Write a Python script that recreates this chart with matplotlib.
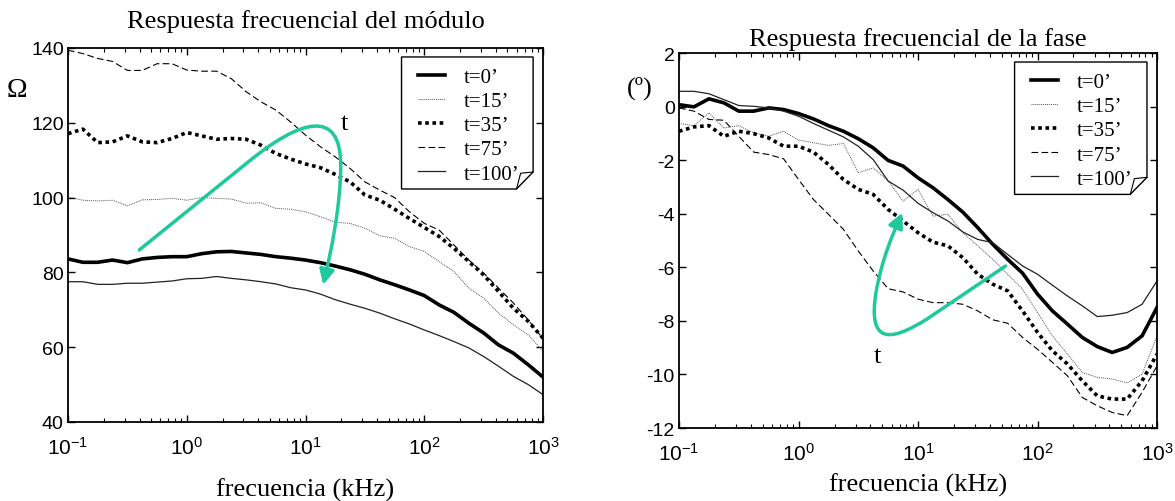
import numpy as np
import matplotlib
matplotlib.use("Agg")
import matplotlib.pyplot as plt
from matplotlib.path import Path
from matplotlib.patches import FancyArrowPatch, Polygon
from matplotlib.lines import Line2D
from matplotlib import ticker

plt.rcParams["font.family"] = ["Liberation Sans", "DejaVu Sans"]
plt.rcParams["mathtext.fontset"] = "custom"
plt.rcParams["mathtext.rm"] = "Liberation Sans"
plt.rcParams["mathtext.it"] = "Liberation Sans"
plt.rcParams["mathtext.default"] = "regular"
plt.rcParams["axes.unicode_minus"] = False

SERIF = ["Liberation Serif", "DejaVu Serif"]

# Frequency grid (kHz), 8 points per decade from 0.1 to 1000
freq_khz = 10 ** np.linspace(-1, 3, 33)

labels = ["t=0\u2019", "t=15\u2019", "t=35\u2019", "t=75\u2019", "t=100\u2019"]

# Impedance magnitude (ohm)
mod_t0 = [83.6, 82.7, 82.7, 83.3, 82.6, 83.6, 84.0, 84.2, 84.2, 85.0, 85.5, 85.6,
          85.2, 84.8, 84.2, 83.8, 83.3, 82.6, 81.7, 80.7, 79.5, 78.0, 76.7, 75.3,
          73.8, 71.3, 69.3, 66.4, 63.8, 60.6, 58.4, 55.3, 52.0]
mod_t15 = [100.2, 99.3, 99.1, 99.3, 97.8, 99.4, 99.5, 99.8, 99.3, 100.0, 99.8, 99.6,
           98.5, 98.6, 97.1, 96.9, 96.2, 94.9, 93.4, 93.1, 91.8, 89.8, 89.1, 86.9,
           85.6, 82.9, 80.2, 75.8, 73.1, 69.1, 66.0, 63.3, 58.9]
mod_t35 = [117.1, 118.3, 114.7, 114.9, 116.5, 114.9, 114.7, 115.8, 117.4, 116.5, 115.6,
           115.8, 115.6, 114.0, 111.8, 110.3, 109.0, 108.0, 106.2, 104.2, 100.7, 99.3,
           96.9, 94.4, 92.0, 89.6, 86.4, 82.9, 79.3, 74.9, 70.4, 66.9, 62.4]
mod_t75 = [139.4, 138.5, 137.2, 136.4, 134.0, 134.0, 135.8, 135.8, 134.1, 133.8, 133.8,
           131.8, 128.3, 125.6, 123.4, 120.2, 116.7, 113.6, 110.9, 107.8, 104.2, 102.0,
           100.0, 96.2, 93.1, 91.3, 87.3, 83.3, 79.8, 75.8, 71.8, 67.3, 62.2]
mod_t100 = [77.5, 77.5, 76.8, 76.8, 77.1, 77.1, 77.4, 77.7, 78.3, 78.4, 78.9, 78.4,
            78.0, 77.5, 76.9, 75.9, 75.3, 74.2, 72.7, 71.5, 70.4, 69.1, 67.6, 66.2,
            64.6, 63.1, 61.5, 59.8, 57.5, 54.9, 52.2, 50.0, 47.3]

# Phase (degrees)
ph_t0 = [0.07, -0.01, 0.29, 0.14, -0.17, -0.17, -0.05, -0.11, -0.26, -0.46, -0.71,
         -0.92, -1.20, -1.54, -2.01, -2.22, -2.66, -3.03, -3.47, -3.94, -4.52, -5.14,
         -5.70, -6.22, -7.00, -7.63, -8.12, -8.62, -8.96, -9.18, -8.99, -8.56, -7.50]
ph_t15 = [-0.63, -0.71, -0.24, -0.80, -0.71, -0.98, -1.11, -0.92, -1.25, -1.35, -1.45,
          -1.38, -2.47, -2.29, -2.78, -3.53, -3.09, -4.09, -4.02, -4.71, -5.20, -5.70,
          -6.26, -6.82, -7.69, -8.56, -9.24, -9.93, -10.11, -10.17, -10.32, -9.99, -8.56]
ph_t35 = [-0.92, -0.76, -0.71, -1.11, -0.92, -1.01, -1.17, -1.48, -1.48, -1.70, -2.16,
          -2.72, -3.09, -3.28, -3.84, -4.27, -4.71, -5.06, -5.20, -5.64, -6.26, -6.63,
          -6.88, -7.63, -8.43, -9.12, -9.61, -10.24, -10.80, -10.92, -10.92, -10.24, -9.24]
ph_t75 = [-0.05, -0.17, -0.48, -0.51, -1.11, -1.70, -1.79, -1.95, -2.72, -3.47, -4.02,
          -4.58, -5.39, -6.14, -6.80, -6.92, -7.19, -7.32, -7.32, -7.38, -7.63, -7.96,
          -8.09, -8.62, -9.06, -9.55, -10.05, -10.86, -11.17, -11.42, -11.54, -10.67, -9.68]
ph_t100 = [0.57, 0.57, 0.48, 0.26, 0.04, 0.01, -0.05, -0.17, -0.36, -0.63, -0.88,
           -1.13, -1.48, -1.98, -2.78, -3.12, -3.61, -3.96, -4.27, -4.68, -4.96, -5.08,
           -5.52, -5.95, -6.26, -6.67, -7.07, -7.44, -7.84, -7.79, -7.69, -7.38, -6.51]

styles = [
    dict(color="black", lw=2.6, ls="-"),
    dict(color="#555555", lw=0.7, ls=(0, (1, 1))),
    dict(color="black", lw=2.6, ls=(0, (1, 1))),
    dict(color="black", lw=0.8, ls=(0, (6, 3))),
    dict(color="#222222", lw=0.9, ls="-"),
]

teal = "#1fc99b"

fig = plt.figure(figsize=(11.75, 5.02), dpi=100)
ax1 = fig.add_axes([0.0579, 0.1574, 0.4043, 0.745])
ax2 = fig.add_axes([0.5779, 0.1454, 0.4068, 0.747])


def style_axes(ax, ylim, yticks):
    ax.set_xscale("log")
    ax.set_xlim(0.1, 1000)
    ax.set_ylim(*ylim)
    ax.set_yticks(yticks)
    ax.xaxis.set_major_locator(ticker.LogLocator(base=10, numticks=10))
    ax.xaxis.set_minor_locator(ticker.LogLocator(base=10, subs=np.arange(2, 10), numticks=10))
    ax.xaxis.set_major_formatter(ticker.FuncFormatter(lambda v, p: r"$10^{%d}$" % round(np.log10(v))))
    ax.xaxis.set_minor_formatter(ticker.NullFormatter())
    ax.tick_params(which="both", direction="in", top=True, right=True)
    ax.tick_params(which="major", length=5, width=1)
    ax.tick_params(which="minor", length=3, width=0.8)
    ax.tick_params(axis="y", labelsize=14, pad=3)
    ax.tick_params(axis="x", labelsize=15, pad=10)
    for s in ax.spines.values():
        s.set_linewidth(1.3)


def draw_legend(ax):
    x0, x1, y0, y1 = 0.702, 0.979, 0.623, 0.976
    c = 0.035
    frame = Polygon([(x0, y0), (x1 - c, y0), (x1, y0 + c * 1.3), (x1, y1), (x0, y1)],
                    closed=True, transform=ax.transAxes, facecolor="white",
                    edgecolor="black", lw=1.0, zorder=5)
    ax.add_patch(frame)
    fold = Line2D([x1 - c, x1 - c * 0.75, x1], [y0, y0 + c * 1.2, y0 + c * 1.3],
                  transform=ax.transAxes, color="black", lw=0.8, zorder=6)
    ax.add_line(fold)
    handles = [Line2D([], [], **st) for st in styles]
    leg = ax.legend(handles, labels, loc="upper left", bbox_to_anchor=(x0 + 0.013, y1),
                    frameon=False, handlelength=1.3, handletextpad=0.9,
                    labelspacing=0.22, borderaxespad=0, borderpad=0.5,
                    prop={"family": SERIF, "size": 15})
    leg.set_zorder(7)


# Module plot
for y, st in zip([mod_t0, mod_t15, mod_t35, mod_t75, mod_t100], styles):
    ax1.plot(freq_khz, y, **st)
style_axes(ax1, (40, 140), [40, 60, 80, 100, 120, 140])
ax1.set_title("Respuesta frecuencial del módulo", fontsize=19, pad=15, family=SERIF)
ax1.set_xlabel("frecuencia (kHz)", fontsize=19, labelpad=14, family=SERIF)
ax1.text(-0.107, 0.89, "\u03a9", transform=ax1.transAxes, fontsize=20,
         ha="center", va="center", family=SERIF)
draw_legend(ax1)

arrow1 = Path(
    [(0.150, 0.460), (0.380, 0.696),
     (0.491, 0.811), (0.574, 0.838), (0.574, 0.687),
     (0.574, 0.580), (0.554, 0.456), (0.537, 0.367)],
    [Path.MOVETO, Path.LINETO, Path.CURVE4, Path.CURVE4, Path.CURVE4,
     Path.CURVE4, Path.CURVE4, Path.CURVE4])
ax1.add_patch(FancyArrowPatch(path=arrow1, arrowstyle="-|>", mutation_scale=22,
                              color=teal, lw=2.5, transform=ax1.transAxes, zorder=4))
ax1.text(0.581, 0.800, "t", transform=ax1.transAxes, fontsize=19, ha="center",
         va="center", family=SERIF)

# Phase plot
for y, st in zip([ph_t0, ph_t15, ph_t35, ph_t75, ph_t100], styles):
    ax2.plot(freq_khz, y, **st)
style_axes(ax2, (-12, 2), [-12, -10, -8, -6, -4, -2, 0, 2])
ax2.set_title("Respuesta frecuencial de la fase", fontsize=19, pad=6, family=SERIF)
ax2.set_xlabel("frecuencia (kHz)", fontsize=19, labelpad=6, family=SERIF)
ax2.text(-0.082, 0.909, "(\u00ba)", transform=ax2.transAxes, fontsize=19,
         ha="center", va="center", family=SERIF)
draw_legend(ax2)

arrow2 = Path(
    [(0.683, 0.432), (0.518, 0.290),
     (0.440, 0.228), (0.395, 0.225), (0.412, 0.361),
     (0.424, 0.449), (0.448, 0.520), (0.467, 0.574)],
    [Path.MOVETO, Path.LINETO, Path.CURVE4, Path.CURVE4, Path.CURVE4,
     Path.CURVE4, Path.CURVE4, Path.CURVE4])
ax2.add_patch(FancyArrowPatch(path=arrow2, arrowstyle="-|>", mutation_scale=22,
                              color=teal, lw=2.5, transform=ax2.transAxes, zorder=4))
ax2.text(0.415, 0.193, "t", transform=ax2.transAxes, fontsize=19, ha="center",
         va="center", family=SERIF)

fig.savefig("out.png", dpi=100)
